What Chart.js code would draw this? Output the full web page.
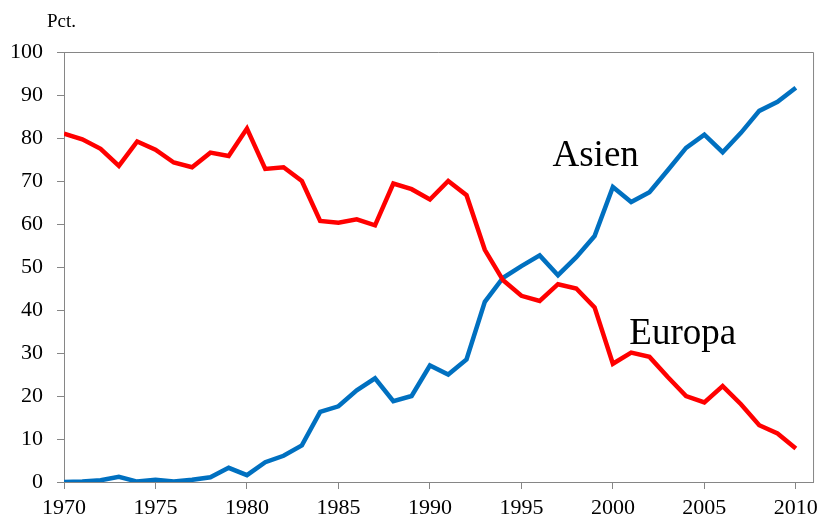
<!DOCTYPE html>
<html>
<head>
<meta charset="utf-8">
<script src="https://cdn.jsdelivr.net/npm/chart.js@4.4.1/dist/chart.umd.min.js"></script>
<style>
  html, body { margin: 0; padding: 0; background: #fff; }
  #wrap { width: 824px; height: 521px; }
</style>
</head>
<body>
<div id="wrap"><canvas id="chart"></canvas></div>
<script>
var years = [1970, 1971, 1972, 1973, 1974, 1975, 1976, 1977, 1978, 1979,
             1980, 1981, 1982, 1983, 1984, 1985, 1986, 1987, 1988, 1989,
             1990, 1991, 1992, 1993, 1994, 1995, 1996, 1997, 1998, 1999,
             2000, 2001, 2002, 2003, 2004, 2005, 2006, 2007, 2008, 2009, 2010];

var europa = [81.0, 79.7, 77.5, 73.5, 79.2, 77.3, 74.3, 73.2, 76.6, 75.8,
              82.2, 72.8, 73.2, 70.0, 60.7, 60.3, 61.1, 59.7, 69.4, 68.1,
              65.7, 70.0, 66.7, 54.0, 46.9, 43.3, 42.1, 46.0, 45.0, 40.6,
              27.5, 30.1, 29.1, 24.4, 20.0, 18.5, 22.3, 18.1, 13.2, 11.3, 7.8];

var asien = [0.0, 0.1, 0.4, 1.2, 0.1, 0.5, 0.1, 0.5, 1.1, 3.3,
             1.6, 4.6, 6.1, 8.5, 16.3, 17.6, 21.3, 24.1, 18.8, 20.0,
             27.1, 25.0, 28.5, 41.9, 47.5, 50.2, 52.7, 48.1, 52.3, 57.2,
             68.6, 65.1, 67.4, 72.5, 77.7, 80.8, 76.7, 81.2, 86.3, 88.4, 91.7];

var xTicks = [1970, 1975, 1980, 1985, 1990, 1995, 2000, 2005, 2010];
var seriesNames = ['Europa', 'Asien'];
var yUnit = 'Pct.';

var axisColor = '#868686';
var serif = "'Liberation Serif', 'Times New Roman', serif";

// frame on top/right plus text labels in the plot
var decorations = {
    id: 'decorations',
    afterDatasetsDraw: function (chart) {
        var ctx = chart.ctx;
        var a = chart.chartArea;
        var xs = chart.scales.x, ys = chart.scales.y;
        ctx.save();
        ctx.strokeStyle = axisColor;
        ctx.lineWidth = 1;
        ctx.beginPath();
        ctx.moveTo(a.left, a.top + 0.5);
        ctx.lineTo(a.right + 0.5, a.top + 0.5);
        ctx.lineTo(a.right + 0.5, a.bottom);
        ctx.stroke();

        ctx.fillStyle = '#000';
        ctx.textBaseline = 'alphabetic';
        ctx.textAlign = 'left';
        ctx.font = '19px ' + serif;
        ctx.fillText(yUnit, 47, 27);

        ctx.font = '37px ' + serif;
        ctx.fillText(seriesNames[1], xs.getPixelForValue(1996.7), ys.getPixelForValue(73.4));
        ctx.fillText(seriesNames[0], xs.getPixelForValue(2000.9), ys.getPixelForValue(32.2));
        ctx.restore();
    }
};

var ctx = document.getElementById('chart').getContext('2d');
var chart = new Chart(ctx, {
    type: 'line',
    data: {
        datasets: [{
            label: seriesNames[0],
            data: years.map((y, i) => ({ x: y, y: europa[i] })),
            borderColor: '#FF0000',
            borderWidth: 4.5,
            pointRadius: 0,
            tension: 0
        }, {
            label: seriesNames[1],
            data: years.map((y, i) => ({ x: y, y: asien[i] })),
            borderColor: '#0070C0',
            borderWidth: 4.5,
            pointRadius: 0,
            tension: 0
        }]
    },
    options: {
        responsive: true,
        maintainAspectRatio: false,
        animation: false,
        layout: {
            padding: { top: 52, right: 7, left: 0, bottom: 0 }
        },
        scales: {
            x: {
                type: 'linear',
                min: 1970,
                max: 2010.94,
                afterBuildTicks: function (scale) {
                    scale.ticks = xTicks.map(v => ({ value: v }));
                },
                afterFit: function (scale) { scale.height = 39; },
                ticks: {
                    color: '#000',
                    font: { family: serif, size: 22 },
                    padding: 6,
                    maxRotation: 0,
                    callback: function (v) { return String(v); }
                },
                grid: {
                    display: true,
                    drawOnChartArea: false,
                    drawTicks: true,
                    tickLength: 7,
                    color: axisColor
                },
                border: { display: true, color: axisColor, width: 1 }
            },
            y: {
                min: 0,
                max: 100,
                afterFit: function (scale) { scale.width = 64; },
                ticks: {
                    stepSize: 10,
                    color: '#000',
                    font: { family: serif, size: 22 },
                    padding: 14
                },
                grid: {
                    display: true,
                    drawOnChartArea: false,
                    drawTicks: true,
                    tickLength: 7,
                    color: axisColor
                },
                border: { display: true, color: axisColor, width: 1 }
            }
        },
        plugins: {
            legend: { display: false },
            tooltip: { enabled: false }
        }
    },
    plugins: [decorations]
});
</script>
</body>
</html>
